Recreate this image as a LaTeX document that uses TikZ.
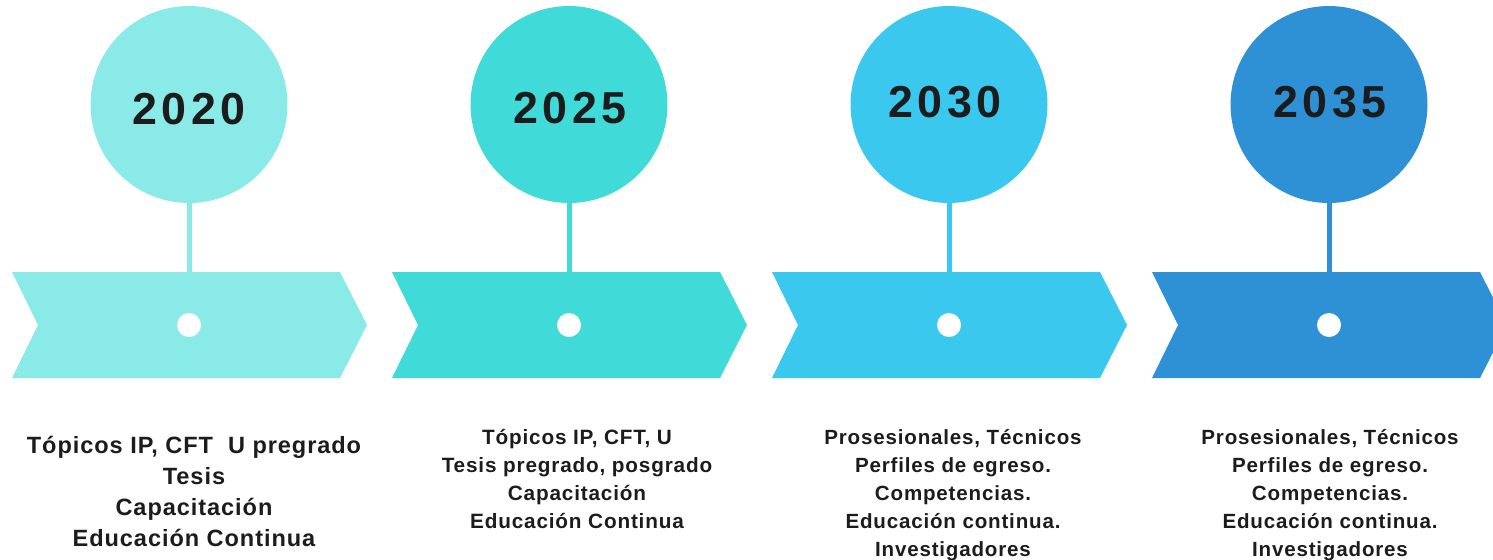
\documentclass[tikz,border=0pt]{standalone}
\usepackage{fontspec}
\setmainfont{Liberation Sans}
\newfontfamily\yearfont[LetterSpace=10]{Liberation Sans}
\newfontfamily\itemfont[LetterSpace=4]{Liberation Sans}
\definecolor{colA}{HTML}{8AEAE8}
\definecolor{colB}{HTML}{40DBD8}
\definecolor{colC}{HTML}{3AC8EF}
\definecolor{colD}{HTML}{2E91D6}
\definecolor{ink}{HTML}{1C1C1C}
\tikzset{
  ball/.style={circle,fill=#1,minimum size=3.94cm,inner sep=0},
  yeartext/.style={text=ink,font=\yearfont\bfseries\fontsize{25.5}{30}\selectfont,inner sep=0},
  dot/.style={circle,fill=white,minimum size=0.48cm,inner sep=0},
  items/.style={text=ink,align=center,anchor=north,inner sep=0},
}
\begin{document}
\begin{tikzpicture}[x=0.02cm,y=-0.02cm]
	\useasboundingbox (0,0) rectangle (1493,559);
	\clip (0,0) rectangle (1493,559);
	% arrows, circles and stems
	\foreach \i/\c/\y/\tx/\ty in {0/colA/2020/189/109, 1/colB/2025/570/108, 2/colC/2030/945/102, 3/colD/2035/1330/102}{
		\fill [\c] (12+380*\i,272) -- ++(328,0) -- ++(27,53) -- ++(-27,53) -- ++(-328,0) -- ++(26,-53) -- cycle;
		\node [ball=\c] (b\i) at (189+380*\i,104.5) {};
		\node [yeartext] (y\i) at (\tx,\ty) {\y};
		\coordinate (t\i) at (189+380*\i,273);
		\draw [\c,line width=0.1cm] (b\i.south) -- (t\i);
		\node [dot] (d\i) at (189+380*\i,325) {};
	}
	% texts
	\node [items,font=\itemfont\bfseries\fontsize{13.4}{17.6}\selectfont] (l0) at (194,436) {T\'opicos IP, CFT\ \ U pregrado\\Tesis\\Capacitaci\'on\\Educaci\'on Continua};
	\node [items,font=\itemfont\bfseries\fontsize{11.8}{15.9}\selectfont] (l1) at (577,429) {T\'opicos IP, CFT, U\\Tesis pregrado, posgrado\\Capacitaci\'on\\Educaci\'on Continua};
	\node [items,font=\itemfont\bfseries\fontsize{11.7}{15.9}\selectfont] (l2) at (953,429) {Prosesionales, T\'ecnicos\\Perfiles de egreso.\\Competencias.\\Educaci\'on continua.\\Investigadores};
	\node [items,font=\itemfont\bfseries\fontsize{11.7}{15.9}\selectfont] (l3) at (1330,429) {Prosesionales, T\'ecnicos\\Perfiles de egreso.\\Competencias.\\Educaci\'on continua.\\Investigadores};
\end{tikzpicture}
\end{document}
